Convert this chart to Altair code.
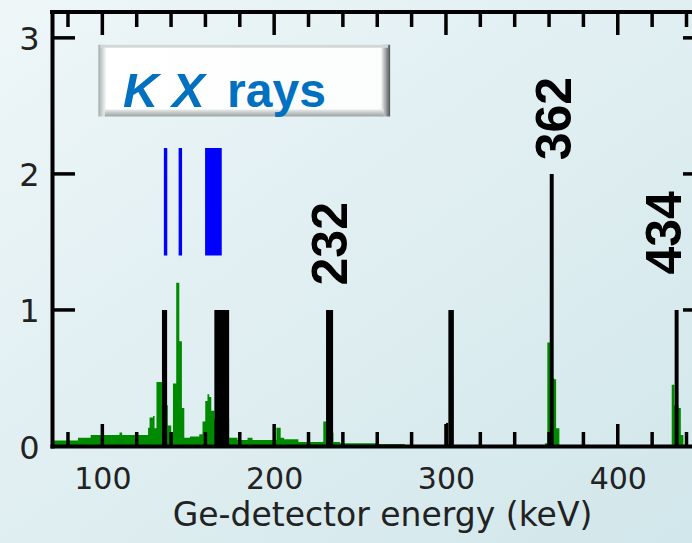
import altair as alt
import pandas as pd

# ---------------- data ----------------
# green Ge-detector spectrum (step edges in keV, level from each edge)
spec_e = [70.7, 85.8, 93.2, 110.0, 111.5, 126.6, 127.5, 129.5, 130.4, 131.5,
          134.7, 138.1, 140.1, 141.1, 143.0, 144.8, 146.3, 147.7, 151.0, 156.4,
          158.3, 159.9, 161.2, 162.2, 163.4, 165.2, 173.8, 178.7, 184.5, 187.4,
          201.3, 203.8, 205.8, 214.1, 228.6, 230.2, 234.5, 238.4, 259.7, 276.0,
          357.7, 359.0, 360.6, 362.9, 364.1, 366.0, 431.4, 433.0, 435.3, 436.7,
          438.2, 443.2]
spec_v = [0.04, 0.06, 0.08, 0.10, 0.08, 0.135, 0.21, 0.22, 0.13, 0.47,
          0.30, 0.15, 0.10, 0.46, 1.20, 0.77, 0.28, 0.06, 0.07, 0.086,
          0.18, 0.33, 0.38, 0.36, 0.26, 0.20, 0.06, 0.045, 0.06, 0.045,
          0.135, 0.06, 0.05, 0.03, 0.18, 0.10, 0.03, 0.02, 0.015, 0.0,
          0.02, 0.76, 0.50, 0.49, 0.13, 0.0, 0.45, 0.30, 0.28, 0.08,
          0.0, 0.0]

# black gamma-line markers
mk_start = [134.7, 165.2, 230.2, 300.0, 301.4, 360.4, 433.1]
mk_end = [137.7, 173.8, 234.3, 301.4, 304.6, 362.7, 435.4]
mk_height = [1.0, 1.0, 1.0, 0.17, 1.0, 2.0, 1.0]

# blue K X-ray lines
kx_start = [135.8, 144.4, 159.8]
kx_end = [137.8, 146.4, 169.5]
kx_low = [1.40, 1.40, 1.40]
kx_high = [2.19, 2.19, 2.19]

# gamma labels
lbl_text = ["232", "362", "434"]
lbl_x = [233.4, 364.0, 428.2]
lbl_y = [1.18, 2.10, 1.26]

# axis ticks
x_tick_values = list(range(80, 441, 20))
x_label_values = [100, 200, 300, 400]
y_tick_values = [1, 2, 3]
y_label_values = [0, 1, 2, 3]

# boxed title "K X rays"
box_x = [97.7, 267.5]
box_y = [2.421, 2.949]
title_kx = ["K X", "rays"]
title_x = [112.0, 172.6]
title_y = [2.495, 2.495]

# ---------------- layout ----------------
W, H = 640, 434
XDOM = [70.7, 443.2]
YDOM = [0, 3.19]
PXU = H / (YDOM[1] - YDOM[0])  # pixels per count unit
PXK = W / (XDOM[1] - XDOM[0])  # pixels per keV

xs = alt.Scale(domain=XDOM, nice=False, zero=False)
ys = alt.Scale(domain=YDOM, nice=False, zero=False)

FONT = "DejaVu Sans"
BOLD = "Liberation Sans"

# background gradient covering the whole canvas (extends past the scale domains)
bg_df = pd.DataFrame({"x0": [XDOM[0] - 53 / PXK], "x1": [XDOM[1] + 60 / PXK],
                      "y0": [YDOM[0] - 98 / PXU], "y1": [YDOM[1] + 13 / PXU]})
bg = alt.Chart(bg_df).mark_rect(
    clip=False,
    color=alt.Gradient(
        gradient="linear",
        stops=[alt.GradientStop(color="#eef6f8", offset=0),
               alt.GradientStop(color="#d0e6ea", offset=1)],
        x1=0, y1=0, x2=1, y2=1),
).encode(x=alt.X("x0:Q", scale=xs), x2="x1:Q", y=alt.Y("y0:Q", scale=ys), y2="y1:Q")

spec_df = pd.DataFrame({"E": spec_e, "v": spec_v, "z": [0.0] * len(spec_e)})
spectrum = alt.Chart(spec_df).mark_area(
    interpolate="step-after", color="#008a00", opacity=1
).encode(
    x=alt.X("E:Q", scale=xs,
            axis=alt.Axis(values=x_label_values, ticks=False, tickSize=0, format="d",
                          labelFontSize=30, labelFont=FONT, labelColor="#222222",
                          labelPadding=18, labelFlush=False, labelOverlap=False,
                          domainWidth=4, domainColor="black", domainCap="square",
                          grid=False, zindex=1,
                          title="Ge-detector energy (keV)", titleFont=FONT,
                          titleFontSize=33, titleFontWeight="normal",
                          titleColor="#222222", titleY=79, titleX=330,
                          titleBaseline="alphabetic")),
    y=alt.Y("v:Q", scale=ys,
            axis=alt.Axis(values=y_label_values, ticks=False, tickSize=0, format="d",
                          labelFontSize=32, labelFont=FONT, labelColor="#222222",
                          labelPadding=13, labelFlush=False, labelOverlap=False,
                          labelOffset=2,
                          domainWidth=4, domainColor="black", domainCap="square",
                          grid=False, zindex=1, title=None)),
    y2="z:Q",
)

mk_df = pd.DataFrame({"s": mk_start, "e": mk_end, "h": mk_height,
                      "z": [0.0] * len(mk_start)})
markers = alt.Chart(mk_df).mark_rect(color="black").encode(
    x=alt.X("s:Q", scale=xs), x2="e:Q",
    y=alt.Y("h:Q", scale=ys), y2="z:Q",
)

kx_df = pd.DataFrame({"s": kx_start, "e": kx_end, "lo": kx_low, "hi": kx_high})
kx = alt.Chart(kx_df).mark_rect(color="#0000ff").encode(
    x=alt.X("s:Q", scale=xs), x2="e:Q",
    y=alt.Y("lo:Q", scale=ys), y2="hi:Q",
)

# inward axis ticks
tick_df = pd.DataFrame({"t": x_tick_values})
tick_df["len"] = [(22 if t % 100 == 0 else 14) / PXU for t in x_tick_values]
tick_df["b0"] = 0.0
tick_df["b1"] = tick_df["len"]
tick_df["t0"] = YDOM[1]
tick_df["t1"] = YDOM[1] - tick_df["len"] - 1 / PXU
bottom_ticks = alt.Chart(tick_df).mark_rule(color="black", strokeWidth=3.5).encode(
    x=alt.X("t:Q", scale=xs), y=alt.Y("b0:Q", scale=ys), y2="b1:Q")
top_ticks = alt.Chart(tick_df).mark_rule(color="black", strokeWidth=3.5).encode(
    x=alt.X("t:Q", scale=xs), y=alt.Y("t0:Q", scale=ys), y2="t1:Q")

yt_df = pd.DataFrame({"t": y_tick_values})
left_ticks = alt.Chart(yt_df).mark_rule(color="black", strokeWidth=3.5).encode(
    y=alt.Y("t:Q", scale=ys), x=alt.value(0), x2=alt.value(23))
right_ticks = alt.Chart(yt_df).mark_rule(color="black", strokeWidth=3.5).encode(
    y=alt.Y("t:Q", scale=ys), x=alt.value(W - 9), x2=alt.value(W))
top_line = alt.Chart(pd.DataFrame({"a": [0]})).mark_rule(
    color="black", strokeWidth=4, strokeCap="square").encode(
    x=alt.value(0), x2=alt.value(W), y=alt.value(0))

# boxed title
bevel_w = 8 / PXK
box_df = pd.DataFrame({"x0": [box_x[0]], "x1": [box_x[1]],
                       "y0": [box_y[0]], "y1": [box_y[1]]})
box_outer = alt.Chart(box_df).mark_rect(
    color=alt.Gradient(
        gradient="linear",
        stops=[alt.GradientStop(color="#a4acac", offset=0),
               alt.GradientStop(color="#ffffff", offset=0.028),
               alt.GradientStop(color="#fbfcfc", offset=0.968),
               alt.GradientStop(color="#4c5454", offset=1)],
        x1=0, y1=0, x2=1, y2=0),
).encode(x=alt.X("x0:Q", scale=xs), x2="x1:Q", y=alt.Y("y0:Q", scale=ys), y2="y1:Q")

strip_df = pd.DataFrame({"x0": [box_x[0] + bevel_w * 0.8], "x1": [box_x[1] - bevel_w * 0.8],
                         "y0": [box_y[0]], "y1": [box_y[0] + 7 / PXU]})
box_bottom = alt.Chart(strip_df).mark_rect(
    color=alt.Gradient(
        gradient="linear",
        stops=[alt.GradientStop(color="#e6eaea", offset=0),
               alt.GradientStop(color="#98a0a0", offset=1)],
        x1=0, y1=0, x2=0, y2=1),
).encode(x=alt.X("x0:Q", scale=xs), x2="x1:Q", y=alt.Y("y0:Q", scale=ys), y2="y1:Q")

topstrip_df = pd.DataFrame({"x0": [box_x[0] + 2 / PXK], "x1": [box_x[1] - 2 / PXK],
                            "y0": [box_y[1] - 3 / PXU], "y1": [box_y[1]]})
box_top = alt.Chart(topstrip_df).mark_rect(color="#d2d8d8").encode(
    x=alt.X("x0:Q", scale=xs), x2="x1:Q", y=alt.Y("y0:Q", scale=ys), y2="y1:Q")

t1 = alt.Chart(pd.DataFrame({"x": [title_x[0]], "y": [title_y[0]], "t": [title_kx[0]]})).mark_text(
    font=BOLD, fontSize=49, fontWeight="bold", fontStyle="italic", color="#0070c0",
    align="left", baseline="alphabetic").encode(
    x=alt.X("x:Q", scale=xs), y=alt.Y("y:Q", scale=ys), text="t:N")
t2 = alt.Chart(pd.DataFrame({"x": [title_x[1]], "y": [title_y[1]], "t": [title_kx[1]]})).mark_text(
    font=BOLD, fontSize=48, fontWeight="bold", color="#0070c0",
    align="left", baseline="alphabetic").encode(
    x=alt.X("x:Q", scale=xs), y=alt.Y("y:Q", scale=ys), text="t:N")

lbl_df = pd.DataFrame({"x": lbl_x, "y": lbl_y, "t": lbl_text})
labels = alt.Chart(lbl_df).mark_text(
    font=BOLD, fontSize=50, fontWeight="bold", color="black", angle=270,
    align="left", baseline="middle").encode(
    x=alt.X("x:Q", scale=xs), y=alt.Y("y:Q", scale=ys), text="t:N")

chart = alt.layer(
    bg, spectrum, markers, bottom_ticks, top_ticks, left_ticks, right_ticks, top_line,
    kx, box_outer, box_bottom, box_top, t1, t2, labels
).properties(
    width=W, height=H,
    autosize=alt.AutoSizeParams(type="none"),
    padding={"left": 52, "top": 12, "right": 0, "bottom": 97},
    background="#dcecef",
).configure_view(stroke=None)

chart.save("out.html", embed_options={"renderer": "svg", "actions": False})
